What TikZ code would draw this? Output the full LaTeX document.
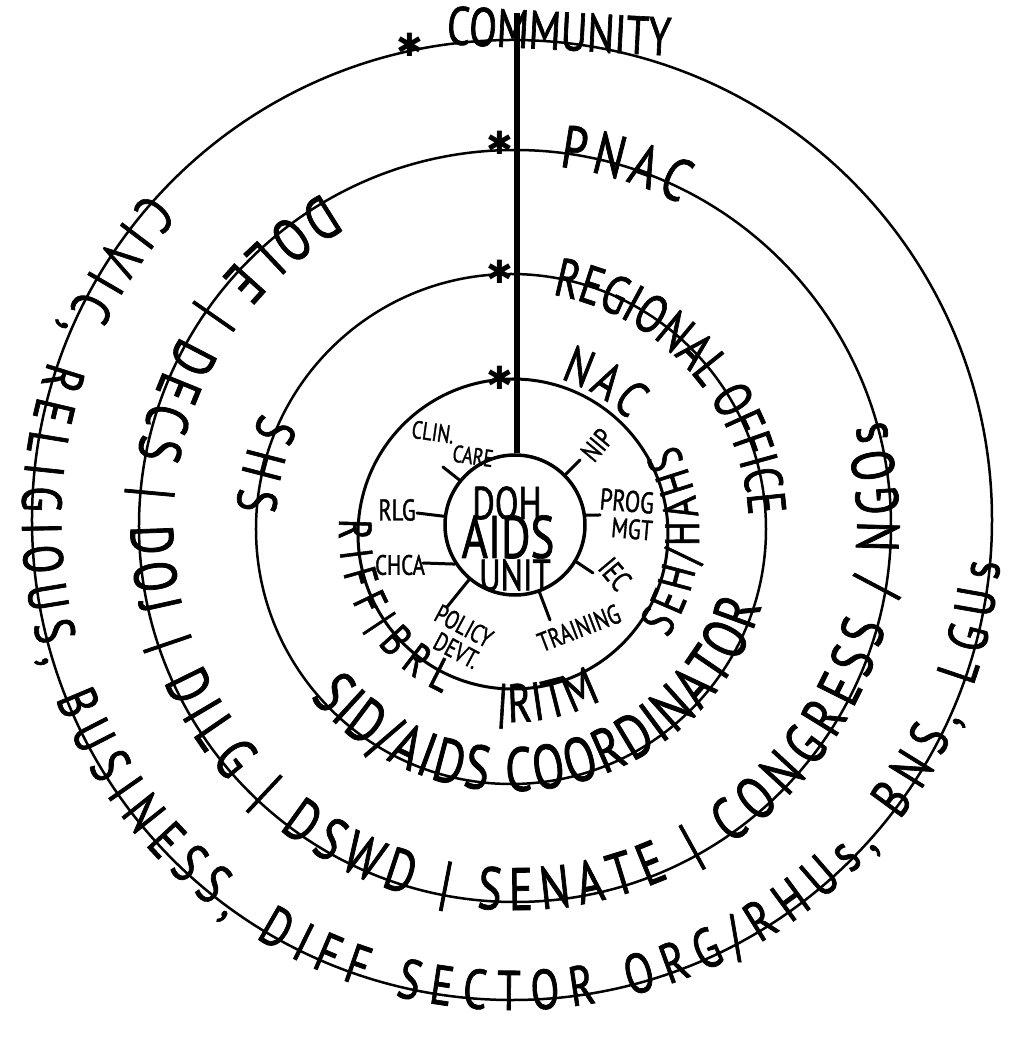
\documentclass[tikz,border=0pt]{standalone}
\usepackage{fontspec}
\setmainfont{PT Sans}
\newfontfamily\hand[FakeStretch=0.75,FakeBold=1.2]{PT Sans}
\newfontfamily\sym{DejaVu Sans}
\usetikzlibrary{decorations.text}
\tikzset{
  circ/.style={line width=2.5pt},
  starnode/.style={inner sep=0pt, font=\sym\fontsize{32}{32}\selectfont},
  lbl/.style={inner sep=1pt, font=\hand\fontsize{#1}{#1}\selectfont},
  spoke/.style={line width=3pt, line cap=round},
  along/.style={decorate, decoration={text along path, text format delimiters={[}{]}, text align={fit to path}, text={#1}}},
}
\begin{document}
\begin{tikzpicture}[x=1pt,y=1pt]
\useasboundingbox (-513,-519) rectangle (509,527);
\fill[white] (-513,-519) rectangle (509,527);
% centres
\coordinate (c0) at (-1,7);
\coordinate (c1) at (2,1);
\coordinate (c2) at (-2,-2);
\coordinate (c3) at (0,-7);
% circles
\draw[circ] (c0) circle[radius=480pt];
\draw[circ] (c1) circle[radius=376pt];
\draw[circ] (c2) circle[radius=255pt];
\draw[circ, line width=3pt] (c3) circle[radius=155pt];
\node[draw, circle, line width=3.5pt, minimum size=140pt, inner sep=0pt] (unit) at (2,2) {};
% vertical line
\coordinate (top) at (4,514);
\draw[line width=6pt] (top) -- (top |- unit.north);
% stars
\node[starnode] (s0) at (-103,482) {✱};
\node[starnode] (s1) at (-13,384) {✱};
\node[starnode] (s2) at (-13,255) {✱};
\node[starnode] (s3) at (-13,149) {✱};
% top label
\node[lbl=54, rotate=-3] (community) at (46,496) {COMMUNITY};
% outer circle text
\path[along={[\hand\fontsize{56}{60}\selectfont]CIVIC, RELIGIOUS, BUSINESS, DIFF SECTOR ORG/RHUs, BNS, LGUs}, shift={(c0)}]
  (138:490pt) arc[start angle=138, end angle=355, radius=490pt];
% circle 2 texts
\path[along={[\hand\fontsize{60}{64}\selectfont]PNAC}, shift={(c1)}]
  (83:362pt) arc[start angle=83, end angle=63, radius=362pt];
\path[along={[\hand\fontsize{60}{64}\selectfont]DOLE | DECS | DOJ | DILG | DSWD | SENATE | CONGRESS / NGOs}, shift={(c1)}]
  (120:384pt) arc[start angle=120, end angle=376, radius=384pt];
% circle 3 texts
\path[along={[\hand\fontsize{54}{58}\selectfont]REGIONAL OFFICE}, shift={(c2)}]
  (80:238pt) arc[start angle=80, end angle=5, radius=238pt];
\path[along={[\hand\fontsize{56}{60}\selectfont]SHS}, shift={(c2)}]
  (155:275pt) arc[start angle=155, end angle=176, radius=275pt];
\path[along={[\hand\fontsize{62}{66}\selectfont]SID/AIDS COORDINATOR}, shift={(c2)}]
  (220:262pt) arc[start angle=220, end angle=343, radius=262pt];
% ring texts
\path[along={[\hand\fontsize{52}{56}\selectfont]NAC}, shift={(c3)}]
  (73:162pt) arc[start angle=73, end angle=45, radius=162pt];
\path[along={[\hand\fontsize{48}{52}\selectfont]SEH/HAHS}, shift={(c3)}]
  (-34:186pt) arc[start angle=-34, end angle=29, radius=186pt];
\path[along={[\hand\fontsize{46}{50}\selectfont]RIFF|BRL}, shift={(c3)}]
  (175:174pt) arc[start angle=175, end angle=246, radius=174pt];
\path[along={[\hand\fontsize{54}{58}\selectfont]|RITM}, shift={(c3)}]
  (265:188pt) arc[start angle=265, end angle=298, radius=188pt];
% centre text
\node[lbl=46] (doh) at (-6,24) {DOH};
\node[lbl=60] (aids) at (-5,-10) {AIDS};
\node[lbl=44] (unittxt) at (2,-48) {UNIT};
% spoke ends
\coordinate (e1) at (-70,60);
\coordinate (e2) at (67,67);
\coordinate (e3) at (87,12);
\coordinate (e4) at (80,-46);
\coordinate (e5) at (37,-93);
\coordinate (e6) at (-66,-80);
\coordinate (e7) at (-90,-36);
\coordinate (e8) at (-96,14);
\draw[spoke] (unit.141) -- (e1);
\draw[spoke] (unit.45) -- (e2);
\draw[spoke] (unit.8) -- (e3);
\draw[spoke] (unit.-31) -- (e4);
\draw[spoke] (unit.-70) -- (e5);
\draw[spoke] (unit.230) -- (e6);
\draw[spoke] (unit.213) -- (e7);
\draw[spoke] (unit.173) -- (e8);
% labels
\node[lbl=25, rotate=-8] (clin) at (-80,95) {CLIN.};
\node[lbl=24, rotate=-8] (care) at (-40,71) {CARE};
\node[lbl=28, rotate=50] (nip) at (84,82) {NIP};
\node[lbl=30, rotate=-5] (prog) at (114,26) {PROG};
\node[lbl=28, rotate=-5] (mgt) at (119,-2) {MGT};
\node[lbl=30, rotate=-50] (iec) at (102,-47) {IEC};
\node[lbl=27, rotate=21] (training) at (66,-101) {TRAINING};
\node[lbl=26, rotate=-28, align=left, inner sep=0pt] (policy) at (-55,-110)
  {POLICY\\[-1pt]\hspace*{12pt}DEVT.};
\node[lbl=28] (chca) at (-113,-38) {CHCA};
\node[lbl=30] (rlg) at (-116,17) {RLG};
\end{tikzpicture}
\end{document}
